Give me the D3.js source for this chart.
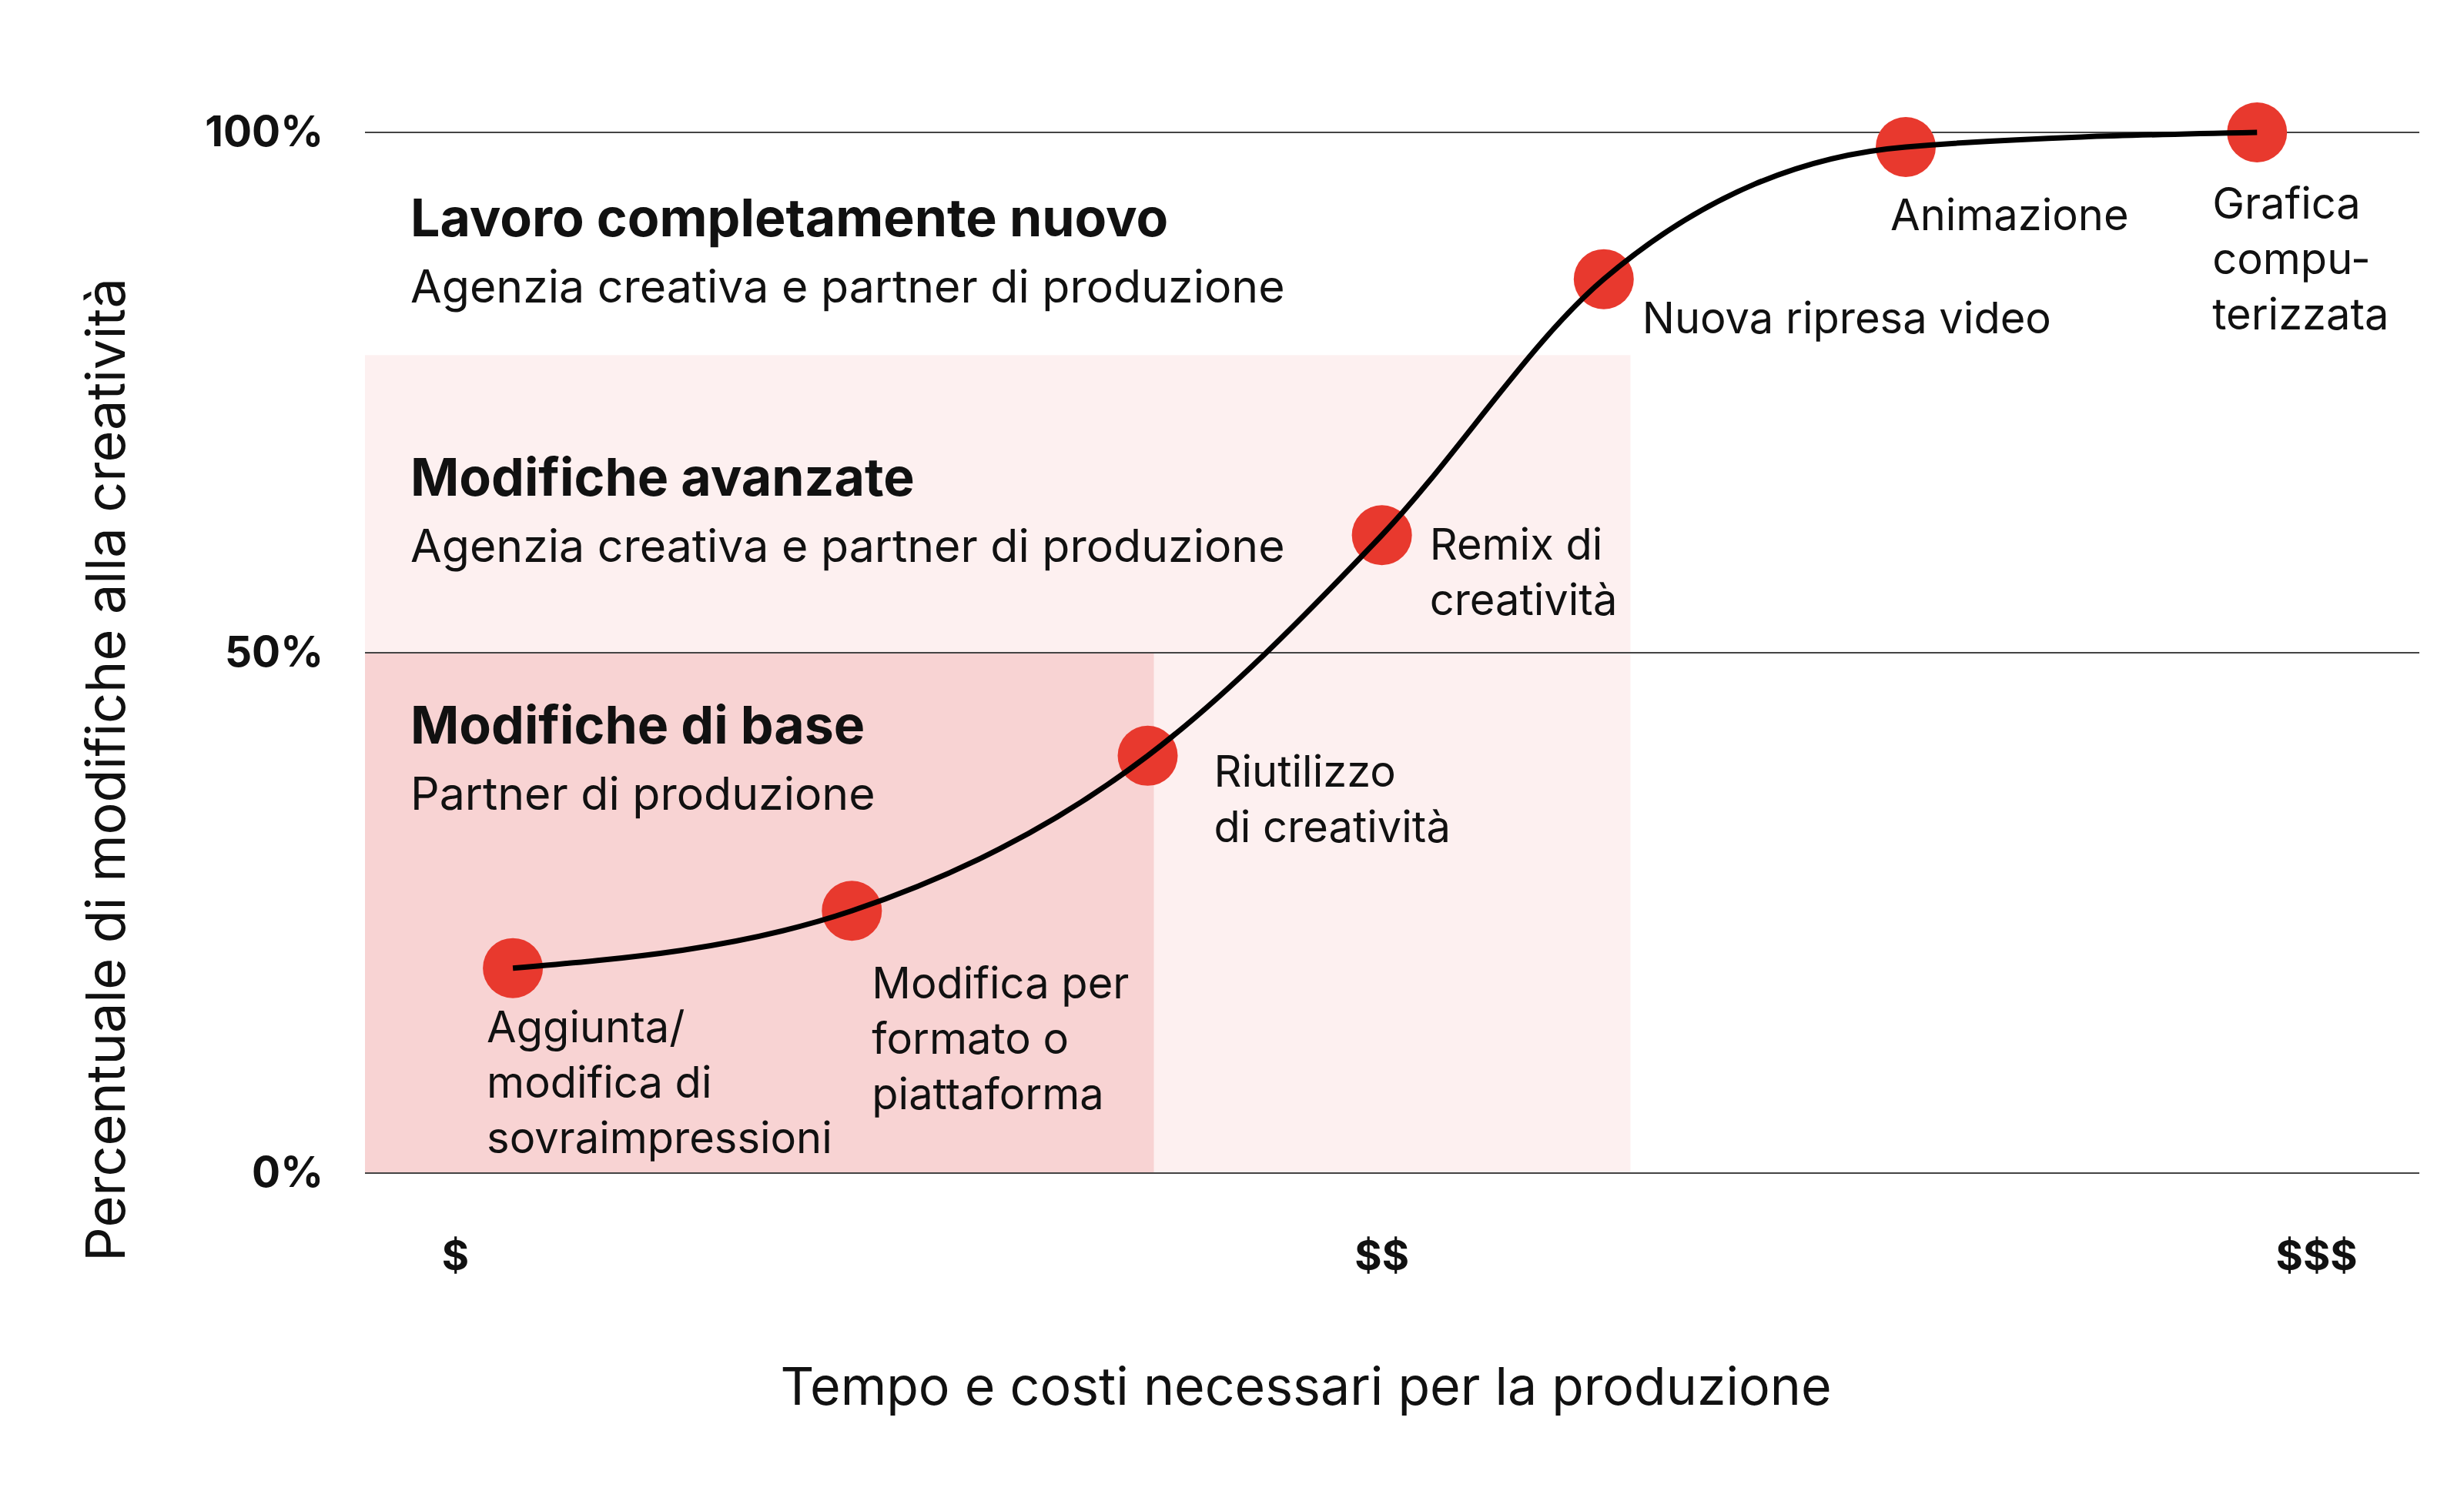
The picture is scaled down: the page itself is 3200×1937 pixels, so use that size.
<!DOCTYPE html>
<html lang="it">
<head>
<meta charset="UTF-8">
<title>Curva creatività</title>
<style>
  body { margin: 0; background: #fff; }
  svg text { font-family: Inter, "Open Sans", sans-serif; fill: #111; }
</style>
</head>
<body>
<svg id="chart"></svg>
<script src="https://cdnjs.cloudflare.com/ajax/libs/d3/7.9.0/d3.min.js"></script>
<script>
// data (x: relative time/cost 0-100, y: % change)
const pointCost = [7.2, 23.7, 38.1, 49.5, 60.3, 75.0, 92.1];
const pointChange = [19.7, 25.2, 40.1, 61.3, 85.9, 98.6, 100];
const pointLabels = [
  ["Aggiunta/", "modifica di", "sovraimpressioni"],
  ["Modifica per", "formato o", "piattaforma"],
  ["Riutilizzo", "di creatività"],
  ["Remix di", "creatività"],
  ["Nuova ripresa video"],
  ["Animazione"],
  ["Grafica", "compu-", "terizzata"]
];
// label offsets from the dot, in px
const labelDx = [-34, 26, 86, 62, 50, -20, -58];
const labelDy = [96, 114, 40, 32, 70, 108, 112];

const yTicks = [0, 50, 100];
const xTickPos = [4.4, 49.5, 95];
const xTickLabels = ["$", "$$", "$$$"];

const zones = [
  { x1: 61.6, y1: 78.6, color: "#fdf0f0", title: "Modifiche avanzate", sub: "Agenzia creativa e partner di produzione", ty: 65.1 },
  { x1: 38.4, y1: 50, color: "#f8d3d3", title: "Modifiche di base", sub: "Partner di produzione", ty: 41.3 }
];
const topTitle = { title: "Lavoro completamente nuovo", sub: "Agenzia creativa e partner di produzione", ty: 90.0 };

const W = 3200, H = 1937;
const svg = d3.select("#chart").attr("width", W).attr("height", H);

const x = d3.scaleLinear().domain([0, 100]).range([474, 3142]);
const y = d3.scaleLinear().domain([0, 100]).range([1524, 172]);

// zones
svg.selectAll(".zone").data(zones).enter().append("rect")
  .attr("x", x(0)).attr("y", d => y(d.y1))
  .attr("width", d => x(d.x1) - x(0)).attr("height", d => y(0) - y(d.y1))
  .attr("fill", d => d.color);

// gridlines
svg.selectAll(".grid").data(yTicks).enter().append("line")
  .attr("x1", x(0)).attr("x2", x(100))
  .attr("y1", d => y(d)).attr("y2", d => y(d))
  .attr("stroke", "#444").attr("stroke-width", 2);

svg.selectAll(".ytick").data(yTicks).enter().append("text")
  .attr("x", 420).attr("y", d => y(d) + 18)
  .attr("text-anchor", "end").attr("font-size", 55).attr("font-weight", 700)
  .text(d => d + "%");

svg.selectAll(".xtick").data(xTickPos).enter().append("text")
  .attr("x", d => x(d)).attr("y", 1650)
  .attr("text-anchor", "middle").attr("font-size", 54).attr("font-weight", 700)
  .text((d, i) => xTickLabels[i]);

// axis titles
svg.append("text").attr("x", 1696).attr("y", 1825).attr("text-anchor", "middle")
  .attr("font-size", 68).text("Tempo e costi necessari per la produzione");
svg.append("text").attr("transform", "translate(162,1000) rotate(-90)")
  .attr("text-anchor", "middle").attr("font-size", 70)
  .text("Percentuale di modifiche alla creatività");

// zone titles
const blocks = [topTitle].concat(zones);
blocks.forEach(b => {
  svg.append("text").attr("x", 533).attr("y", y(b.ty)).attr("font-size", 68).attr("font-weight", 700).text(b.title);
  svg.append("text").attr("x", 533).attr("y", y(b.ty) + 86).attr("font-size", 59).text(b.sub);
});

// curve
const pts = pointCost.map((c, i) => [c, pointChange[i]]);
const line = d3.line().x(d => x(d[0])).y(d => y(d[1])).curve(d3.curveMonotoneX);

svg.selectAll(".dot").data(pts).enter().append("circle")
  .attr("cx", d => x(d[0])).attr("cy", d => y(d[1])).attr("r", 39)
  .attr("fill", "#e8392e");

svg.append("path").datum(pts).attr("d", line)
  .attr("fill", "none").attr("stroke", "#000").attr("stroke-width", 7);

// point labels
pts.forEach((d, i) => {
  const t = svg.append("text").attr("font-size", 56)
    .attr("x", x(d[0]) + labelDx[i]).attr("y", y(d[1]) + labelDy[i]);
  pointLabels[i].forEach((s, j) => {
    t.append("tspan").attr("x", x(d[0]) + labelDx[i]).attr("dy", j === 0 ? 0 : 72).text(s);
  });
});
</script>
</body>
</html>
